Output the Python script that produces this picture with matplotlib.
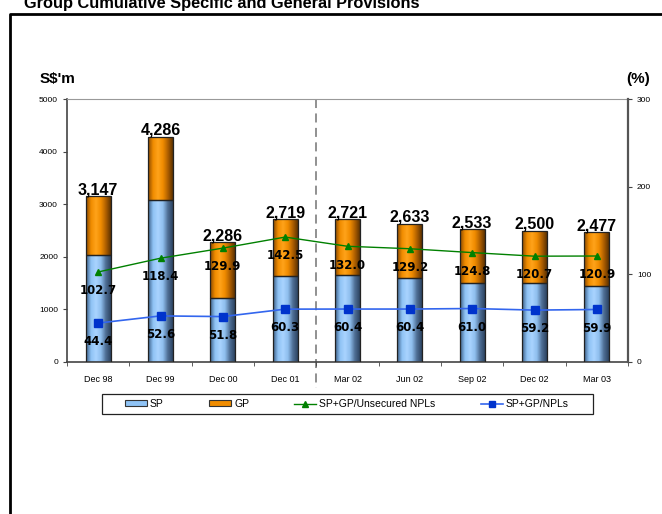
import numpy as np
import matplotlib
matplotlib.use("Agg")
import matplotlib.pyplot as plt
from matplotlib.patches import Rectangle
from matplotlib.lines import Line2D
from matplotlib.colors import LinearSegmentedColormap

plt.rcParams['font.family'] = ['Liberation Sans', 'DejaVu Sans']

periods = ['Dec 98', 'Dec 99', 'Dec 00', 'Dec 01', 'Mar 02', 'Jun 02', 'Sep 02', 'Dec 02', 'Mar 03']
sp = [2030, 3075, 1215, 1630, 1655, 1590, 1500, 1500, 1445]
total = [3147, 4286, 2286, 2719, 2721, 2633, 2533, 2500, 2477]
gp = [t - s for t, s in zip(total, sp)]
unsecured = [102.7, 118.4, 129.9, 142.5, 132.0, 129.2, 124.8, 120.7, 120.9]
npl = [44.4, 52.6, 51.8, 60.3, 60.4, 60.4, 61.0, 59.2, 59.9]

# cylinder-ish shading like the old excel bars
blue_cm = LinearSegmentedColormap.from_list('b', ['#3d5f88', '#8fc3f5', '#a9d3ff', '#8fbfee', '#4f6f96', '#2c4462'])
orange_cm = LinearSegmentedColormap.from_list('o', ['#8a4a00', '#f08c00', '#ffa31a', '#f08c00', '#b06000', '#5e3200'])
grad = np.linspace(0, 1, 64).reshape(1, -1)

fig = plt.figure(figsize=(6.62, 5.14), dpi=100)
ax = fig.add_axes([67/662, 1-362/514, 561/662, 263/514])
x = np.arange(len(periods))
w = 0.4

def shaded(ax, xc, bottom, height, cmap):
    r = Rectangle((xc - w/2, bottom), w, height, facecolor='none', edgecolor='#222222', lw=0.9, zorder=3)
    ax.add_patch(r)
    im = ax.imshow(grad, cmap=cmap, aspect='auto', extent=(xc - w/2, xc + w/2, bottom, bottom + height), zorder=2)
    im.set_clip_path(r)

for i in range(len(periods)):
    shaded(ax, x[i], 0, sp[i], blue_cm)
    shaded(ax, x[i], sp[i], gp[i], orange_cm)
    ax.annotate(f'{total[i]:,}', (x[i], total[i]), xytext=(0, -1), textcoords='offset points',
                ha='center', va='bottom', fontsize=11.5, fontweight='bold', zorder=6)

ax.set_xlim(-0.5, len(periods) - 0.5)
ax.set_ylim(0, 5000)
ax.set_yticks(range(0, 5001, 1000))
ax.set_xticks(x)
ax.set_xticklabels(periods, fontsize=6.5)
ax.set_xticks(np.arange(-0.5, len(periods), 1), minor=True)
ax.tick_params(axis='x', which='major', length=0, pad=9)
ax.tick_params(axis='x', which='minor', length=3, color='#444444')
ax.tick_params(axis='y', labelsize=6, length=3, color='#444444')
for s in ['bottom', 'left']:
    ax.spines[s].set_color('#444444')
    ax.spines[s].set_linewidth(1.2)
ax.spines['right'].set_visible(False)
ax.spines['top'].set_color('#999999')

# dashed separator between annual and quarterly figures
ax.plot([3.5, 3.5], [1, -0.1], transform=ax.get_xaxis_transform(), color='#888888',
        lw=1.3, ls=(0, (5, 3)), clip_on=False, zorder=1)

ax2 = ax.twinx()
ax2.set_ylim(0, 300)
ax2.set_yticks([0, 100, 200, 300])
ax2.tick_params(axis='y', labelsize=6, length=3, color='#444444')
for s in ['top', 'left', 'bottom']:
    ax2.spines[s].set_visible(False)
ax2.spines['right'].set_color('#555555')
ax2.spines['right'].set_linewidth(1.6)

ax2.plot(x, unsecured, color='#008000', lw=1, marker='^', ms=5, zorder=5)
ax2.plot(x, npl, color='#3366ee', lw=1.2, marker='s', ms=6, mfc='#0033cc', mec='#0033cc', zorder=5)
for i in range(len(periods)):
    ax2.annotate(f'{unsecured[i]:.1f}', (x[i], unsecured[i]), xytext=(0, -13.5), textcoords='offset points',
                 ha='center', va='center', fontsize=8.5, fontweight='bold', family='DejaVu Sans', zorder=6)
    ax2.annotate(f'{npl[i]:.1f}', (x[i], npl[i]), xytext=(0, -13.5), textcoords='offset points',
                 ha='center', va='center', fontsize=8.5, fontweight='bold', family='DejaVu Sans', zorder=6)

fig.text(40/662, 1-79/514, "S$'m", fontsize=11, fontweight='bold', va='center')
fig.text(650/662, 1-79/514, "(%)", fontsize=11, fontweight='bold', va='center', ha='right')

handles = [Rectangle((0, 0), 1, 1, fc='#8fc3f5', ec='#333333', lw=0.8),
           Rectangle((0, 0), 1, 1, fc='#f08c00', ec='#333333', lw=0.8),
           Line2D([], [], color='#008000', lw=1, marker='^', ms=4),
           Line2D([], [], color='#3366ee', lw=1.2, marker='s', ms=5, mfc='#0033cc', mec='#0033cc')]
fig.legend(handles, ['SP', 'GP', 'SP+GP/Unsecured NPLs', 'SP+GP/NPLs'], ncol=4,
           loc='center left', bbox_to_anchor=(125/662, 1-404/514), frameon=False,
           fontsize=7.5, borderpad=0, borderaxespad=0, handlelength=2.1, handleheight=0.55,
           handletextpad=0.3, columnspacing=4.35)
fig.add_artist(Rectangle((102/662, 1-414/514), 491/662, 20/514, transform=fig.transFigure,
                         fill=False, ec='#222222', lw=0.9))

# page frame and clipped heading
fig.add_artist(Line2D([9.5/662, 9.5/662, 1], [0, 1-13.5/514, 1-13.5/514], color='black', lw=2))
fig.text(24/662, 1-8/514, 'Group Cumulative Specific and General Provisions', fontsize=11.75,
         fontweight='bold', va='baseline')

fig.savefig('out.png', dpi=100)
